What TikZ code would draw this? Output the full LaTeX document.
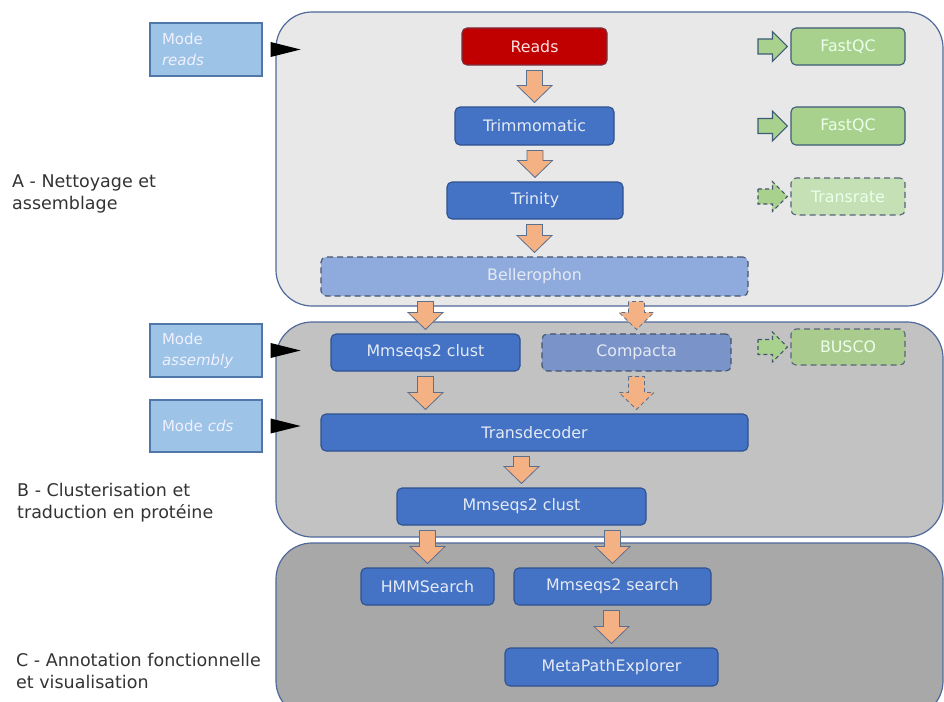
\documentclass[tikz,border=0pt]{standalone}
\usepackage{fontspec}
\setmainfont{DejaVu Sans}
\usetikzlibrary{calc}
\definecolor{panelA}{HTML}{E8E8E8}
\definecolor{panelB}{HTML}{C2C2C2}
\definecolor{panelC}{HTML}{A8A8A8}
\definecolor{panelline}{HTML}{50689A}
\definecolor{bluefill}{HTML}{4472C4}
\definecolor{blueline}{HTML}{2F528F}
\definecolor{dashfill}{HTML}{8FAADC}
\definecolor{compfill}{HTML}{7A93C9}
\definecolor{dashline}{HTML}{44546A}
\definecolor{readsfill}{HTML}{C00000}
\definecolor{readsline}{HTML}{7A3040}
\definecolor{greenfill}{HTML}{A9D18E}
\definecolor{greenlight}{HTML}{C5E0B4}
\definecolor{buscofill}{HTML}{A9CB8E}
\definecolor{greenline}{HTML}{3E5C76}
\definecolor{modefill}{HTML}{9DC3E6}
\definecolor{modeline}{HTML}{4F77AA}
\definecolor{orangefill}{HTML}{F4B183}
\definecolor{orangeline}{HTML}{5B6F8F}
\definecolor{nodetext}{HTML}{E4EAF4}
\definecolor{labeltext}{HTML}{333333}
\tikzset{
  panel/.style={draw=panelline, line width=1.2pt, rounded corners=36pt},
  tool/.style={draw=blueline, fill=bluefill, line width=1.1pt, rounded corners=5pt,
    text=nodetext, font=\fontsize{15.8}{19}\selectfont, inner sep=0pt},
  dashtool/.style={tool, draw=dashline, fill=dashfill, dash pattern=on 6pt off 4pt},
  qc/.style={tool, draw=greenline, fill=greenfill, text=white!92!green},
  dashqc/.style={qc, fill=greenlight, dash pattern=on 6pt off 4pt, draw=dashline!90},
  modebox/.style={draw=modeline, fill=modefill, line width=1.1pt, text=white!94!blue,
    font=\fontsize{15}{21}\selectfont, align=left, text width=88pt, inner xsep=12pt,
    inner ysep=0pt, minimum width=112pt},
  sectlabel/.style={font=\fontsize{17.5}{22}\selectfont, text=labeltext, align=left,
    inner sep=0pt, anchor=north west},
  oarrow/.style={draw=orangeline, fill=orangefill, line width=0.8pt, line join=miter},
  garrow/.style={draw=greenline, fill=greenfill, line width=1.1pt, line join=miter},
  dashedarrow/.style={dash pattern=on 4pt off 3pt},
  modetip/.style={fill=black, draw=none}
}
% block arrow placed at the x of the target
\newcommand\flowdown[3][]{%
  \draw[oarrow,#1] let \p1=($(#2.south -| #3.north)$), \p2=($(#3.north)$) in
    ({\x1-8pt},{\y1-5pt}) -- ({\x1-8pt},{\y2+21pt}) -- ({\x1-17.5pt},{\y2+21pt})
    -- ({\x1},{\y2+4pt}) -- ({\x1+17.5pt},{\y2+21pt}) -- ({\x1+8pt},{\y2+21pt})
    -- ({\x1+8pt},{\y1-5pt}) -- cycle;}
% block arrow placed at the x of the source
\newcommand\flowdownfrom[3][]{%
  \draw[oarrow,#1] let \p1=($(#2.south)$), \p2=($(#3.north -| #2.south)$) in
    ({\x1-8pt},{\y1-5pt}) -- ({\x1-8pt},{\y2+21pt}) -- ({\x1-17.5pt},{\y2+21pt})
    -- ({\x1},{\y2+4pt}) -- ({\x1+17.5pt},{\y2+21pt}) -- ({\x1+8pt},{\y2+21pt})
    -- ({\x1+8pt},{\y1-5pt}) -- cycle;}
\newcommand\flowright[3][]{%
  \draw[garrow,#1] let \p1=(#2), \p2=($(#3.west)$) in
    ({\x1},{\y1+7.5pt}) -- ({\x2-18pt},{\y1+7.5pt}) -- ({\x2-18pt},{\y1+15pt})
    -- ({\x2-3pt},{\y1}) -- ({\x2-18pt},{\y1-15pt}) -- ({\x2-18pt},{\y1-7.5pt})
    -- ({\x1},{\y1-7.5pt}) -- cycle;}
\newcommand\modetip[1]{%
  \fill[modetip] ($(#1.east)+(8,-7.5)$) -- ($(#1.east)+(8,7.5)$) -- ($(#1.east)+(38,0)$) -- cycle;}
\begin{document}
\begin{tikzpicture}[x=1pt,y=-1pt]
\useasboundingbox (0,0) rectangle (944,701);
\begin{scope}
\clip (0,0) rectangle (944,701);
% panels
\draw[panel, fill=panelA] (276,12) rectangle (943,306);
\draw[panel, fill=panelB] (276,322) rectangle (943,537);
\draw[panel, fill=panelC] (276,543) rectangle (943,717);
\end{scope}
% section labels
\node[sectlabel] (labA) at (12,174.5) {A - Nettoyage et\\assemblage};
\node[sectlabel] (labB) at (17,482.5) {B - Clusterisation et\\traduction en protéine};
\node[sectlabel] (labC) at (16,652.5) {C - Annotation fonctionnelle\\et visualisation};
% mode boxes
\node[modebox, minimum height=53pt] (mreads) at (206,49.5) {Mode\\\textit{reads}};
\node[modebox, minimum height=53pt] (masm) at (206,350.5) {Mode\\\textit{assembly}};
\node[modebox, minimum height=52pt] (mcds) at (206,426) {Mode \textit{cds}};
\modetip{mreads}
\modetip{masm}
\modetip{mcds}
% tools
\node[tool, fill=readsfill, draw=readsline, text=white!88!red, minimum width=145pt, minimum height=37pt] (reads) at (534.5,46.5) {Reads};
\node[tool, minimum width=159pt, minimum height=38pt] (trim) at (534.5,126) {Trimmomatic};
\node[tool, minimum width=176pt, minimum height=37pt] (trinity) at (535,200.5) {Trinity};
\node[dashtool, minimum width=427pt, minimum height=39pt] (belle) at (534.5,276.5) {Bellerophon};
\node[tool, minimum width=189pt, minimum height=37pt] (mclust1) at (425.5,352.5) {Mmseqs2 clust};
\node[dashtool, fill=compfill, minimum width=189pt, minimum height=37pt] (compacta) at (636.5,352.5) {Compacta};
\node[tool, minimum width=427pt, minimum height=37pt] (transdec) at (534.5,432.5) {Transdecoder};
\node[tool, minimum width=249pt, minimum height=37pt] (mclust2) at (521.5,506.5) {Mmseqs2 clust};
\node[tool, minimum width=133pt, minimum height=37pt] (hmm) at (427.5,586.5) {HMMSearch};
\node[tool, minimum width=197pt, minimum height=37pt] (msearch) at (612.5,586.5) {Mmseqs2 search};
\node[tool, minimum width=213pt, minimum height=38pt] (meta) at (611.5,667) {MetaPathExplorer};
% QC tools
\node[qc, minimum width=114pt, minimum height=37pt] (fq1) at (848,46.5) {FastQC};
\node[qc, minimum width=114pt, minimum height=38pt] (fq2) at (848,126) {FastQC};
\node[dashqc, minimum width=114pt, minimum height=37pt] (transrate) at (848,196.5) {Transrate};
\node[dashqc, fill=buscofill, minimum width=114pt, minimum height=36pt] (busco) at (848,347) {BUSCO};
% free ends of the QC arrows
\coordinate (g1) at (758,46.5);
\coordinate (g2) at (758,126);
\coordinate (g3) at (758,196.5);
\coordinate (g4) at (758,347);
\flowright{g1}{fq1}
\flowright{g2}{fq2}
\flowright[dashedarrow, draw=dashline]{g3}{transrate}
\flowright[dashedarrow, draw=dashline]{g4}{busco}
% flow arrows
\flowdown{reads}{trim}
\flowdown{trim}{trinity}
\flowdown{trinity}{belle}
\flowdown{belle}{mclust1}
\flowdown[dashedarrow]{belle}{compacta}
\flowdownfrom{mclust1}{transdec}
\flowdownfrom[dashedarrow]{compacta}{transdec}
\flowdown{transdec}{mclust2}
\flowdown{mclust2}{hmm}
\flowdown{mclust2}{msearch}
\flowdown{msearch}{meta}
\end{tikzpicture}
\end{document}
